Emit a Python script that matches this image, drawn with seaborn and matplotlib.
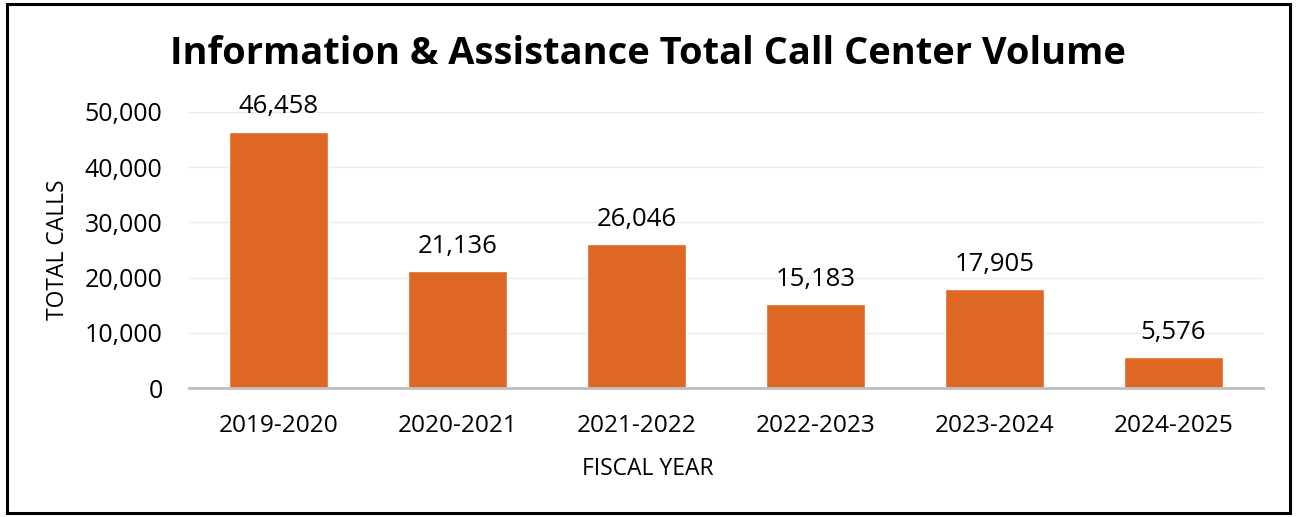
import matplotlib
matplotlib.use("Agg")
import matplotlib.pyplot as plt
import seaborn as sns
import pandas as pd
from matplotlib.patches import Rectangle

categories = ["2019-2020", "2020-2021", "2021-2022", "2022-2023", "2023-2024", "2024-2025"]
calls = [46458, 21136, 26046, 15183, 17905, 5576]
yticks = [0, 10000, 20000, 30000, 40000, 50000]

sns.set_theme(style="white")
plt.rcParams['font.family'] = ['Open Sans', 'DejaVu Sans']
plt.rcParams['text.color'] = 'black'

df = pd.DataFrame({"year": categories, "calls": calls})

fig = plt.figure(figsize=(12.96, 5.17), dpi=100)
ax = fig.add_axes([189/1296, 1 - 388/517, 1074/1296, 276/517])

sns.barplot(data=df, x="year", y="calls", color="#DE6823", saturation=1,
            width=0.55, ax=ax, zorder=3)

ax.set_ylim(0, 50000)
ax.set_yticks(yticks)
ax.set_yticklabels([f"{v:,}" for v in yticks])
ax.set_xlim(-0.5, len(categories) - 0.5)
ax.yaxis.grid(True, color="#EBEBEB", linewidth=1, zorder=0)
ax.xaxis.grid(False)
for s in ["top", "right", "left"]:
    ax.spines[s].set_visible(False)
ax.spines["bottom"].set_color("#BFBFBF")
ax.spines["bottom"].set_linewidth(2)
ax.spines["bottom"].set_zorder(4)
ax.tick_params(axis="both", length=0, colors="black")
ax.tick_params(axis="y", pad=19, labelsize=18)
ax.tick_params(axis="x", pad=19, labelsize=17.6)

for i, v in enumerate(calls):
    ax.annotate(f"{v:,}", (i, v), xytext=(0, 9), textcoords="offset points",
                ha="center", va="bottom", fontsize=18.5, color="black",
                annotation_clip=False)

ax.set_xlabel("FISCAL YEAR", fontsize=16.5, color="black")
ax.set_ylabel("TOTAL CALLS", fontsize=16.5, color="black")
ax.xaxis.set_label_coords((648 - 189) / 1074, -(469 - 388) / 276)
ax.yaxis.set_label_coords(-(189 - 58) / 1074, 0.5)
ax.xaxis.label.set_va("center")
ax.yaxis.label.set_va("center")

fig.text(648/1296, 1 - 54/517, "Information & Assistance Total Call Center Volume",
         ha="center", va="center", fontsize=27.4, fontweight="bold", color="black")

fig.patches.append(Rectangle((6.5/1296, 4.5/517), (1290 - 6.5)/1296, (513 - 4.5)/517,
                             transform=fig.transFigure, fill=False,
                             edgecolor="black", linewidth=2.2))

fig.savefig("out.png", dpi=100)
